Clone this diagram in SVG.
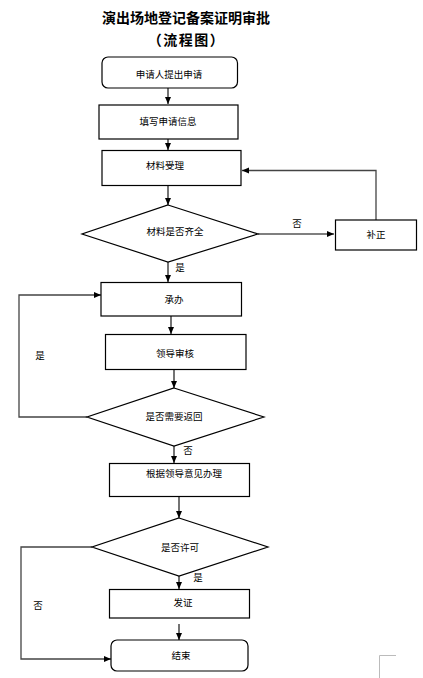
<svg xmlns="http://www.w3.org/2000/svg" width="423" height="678" viewBox="0 0 423 678">
<style>
.box{fill:#fff;stroke:#000;stroke-width:1.2}
.t{font-family:"Noto Sans CJK SC","Noto Sans",sans-serif;font-size:9.5px;fill:#000;text-anchor:middle}
.title{font-family:"Noto Sans CJK SC","Noto Sans",sans-serif;font-size:14px;font-weight:bold;fill:#000;text-anchor:middle}
.ln{fill:none;stroke:#000;stroke-width:1.1}
.lg{fill:none;stroke:#444;stroke-width:1.3}
</style>
<defs>
<marker id="ah" markerUnits="userSpaceOnUse" markerWidth="8" markerHeight="8" refX="7" refY="4" orient="auto">
<path d="M0,1 L7,4 L0,7 Z" fill="#000"/>
</marker>
</defs>
<rect width="423" height="678" fill="#fff"/>
<g id="title">
<text class="title" x="186" y="23">演出场地登记备案证明审批</text>
<text class="title" x="186.5" y="45" letter-spacing="1.5">（流程图）</text>
</g>
<g id="connectors">
<line class="ln" x1="168" y1="88" x2="168" y2="104" marker-end="url(#ah)"/>
<line class="ln" x1="168" y1="139" x2="168" y2="150" marker-end="url(#ah)"/>
<line class="ln" x1="168" y1="185" x2="168" y2="205" marker-end="url(#ah)"/>
<line class="ln" x1="258" y1="234" x2="334" y2="234" marker-end="url(#ah)"/>
<polyline class="lg" points="376,220 376,170.5 242,170.5" marker-end="url(#ah)"/>
<line class="ln" x1="168" y1="262" x2="168" y2="282" marker-end="url(#ah)"/>
<line class="ln" x1="171" y1="316" x2="171" y2="334" marker-end="url(#ah)"/>
<line class="ln" x1="174" y1="369" x2="174" y2="388" marker-end="url(#ah)"/>
<polyline class="lg" points="87,417 19,417 19,295 101,295" marker-end="url(#ah)"/>
<line class="ln" x1="174" y1="446" x2="174" y2="463" marker-end="url(#ah)"/>
<line class="ln" x1="179" y1="497" x2="179" y2="518" marker-end="url(#ah)"/>
<line class="ln" x1="179" y1="576" x2="179" y2="589" marker-end="url(#ah)"/>
<line class="ln" x1="179" y1="624" x2="179" y2="640" marker-end="url(#ah)"/>
<polyline class="lg" points="92,547 21,547 21,659 111,659" marker-end="url(#ah)"/>
<text class="t" x="297" y="227">否</text>
<text class="t" x="180" y="271">是</text>
<text class="t" x="40" y="359">是</text>
<text class="t" x="188" y="454">否</text>
<text class="t" x="198" y="581">是</text>
<text class="t" x="38" y="609">否</text>
</g>
<g id="n1"><rect class="box" x="102" y="57" width="135.5" height="31" rx="6"/><text class="t" x="169" y="78">申请人提出申请</text></g>
<g id="n2"><rect class="box" x="99" y="105" width="139" height="34"/><text class="t" x="168" y="125">填写申请信息</text></g>
<g id="n3"><rect class="box" x="102" y="150.5" width="139" height="35"/><text class="t" x="165" y="168.5">材料受理</text></g>
<g id="d1"><polygon class="box" points="168,205 258,234 168,262 82,234"/><text class="t" x="175" y="235">材料是否齐全</text></g>
<g id="n4"><rect class="box" x="335.5" y="220" width="81" height="30"/><text class="t" x="376" y="237.5">补正</text></g>
<g id="n5"><rect class="box" x="101" y="282.5" width="140.5" height="33.5"/><text class="t" x="174" y="303">承办</text></g>
<g id="n6"><rect class="box" x="105.5" y="334.5" width="140.5" height="35"/><text class="t" x="175" y="357">领导审核</text></g>
<g id="d2"><polygon class="box" points="174,388 264,417 174,446 87,417"/><text class="t" x="174" y="420">是否需要返回</text></g>
<g id="n7"><rect class="box" x="109.5" y="463.5" width="140" height="33"/><text class="t" x="184" y="477">根据领导意见办理</text></g>
<g id="d3"><polygon class="box" points="179,518 268,547 179,576 92,547"/><text class="t" x="180" y="550.5">是否许可</text></g>
<g id="n8"><rect class="box" x="109.5" y="589.5" width="140" height="28.5"/><text class="t" x="183" y="606">发证</text></g>
<g id="n9"><rect class="box" x="111" y="640" width="137" height="31" rx="6"/><text class="t" x="181" y="658.5">结束</text></g>
<path d="M379.5,678 V655.5 H396" fill="none" stroke="#bbb" stroke-width="1"/>
</svg>
